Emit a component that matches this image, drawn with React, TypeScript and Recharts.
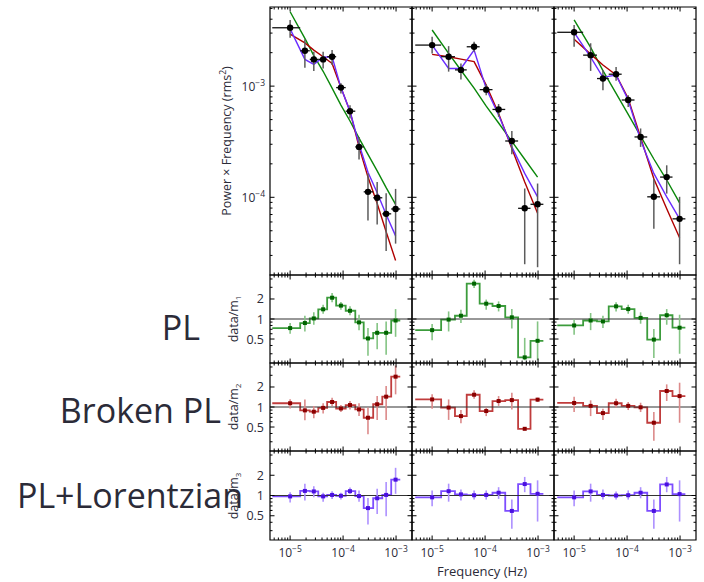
import {
  ComposedChart,
  Line,
  Scatter,
  XAxis,
  YAxis,
  ErrorBar,
  ReferenceLine,
  ReferenceArea,
} from 'recharts'

const FONT = '"Open Sans", "Noto Sans", sans-serif'
const INK = '#2b2b38'

// frequency bins (Hz): centres and edges. column 1 has 12 bins, columns 2-3 have 9
const freqA = [1.0e-5, 1.9e-5, 2.8e-5, 4.2e-5, 6.2e-5, 9.1e-5, 1.35e-4, 2.0e-4, 2.95e-4, 4.4e-4, 6.5e-4, 9.8e-4]
const edgesA = [4.6e-6, 1.55e-5, 2.35e-5, 3.4e-5, 5.0e-5, 7.4e-5, 1.12e-4, 1.7e-4, 2.45e-4, 3.7e-4, 5.5e-4, 8.1e-4, 1.2e-3]
const freqB = [1.0e-5, 2.05e-5, 3.5e-5, 6.2e-5, 1.05e-4, 1.8e-4, 3.2e-4, 5.6e-4, 9.8e-4]
const edgesB = [4.8e-6, 1.48e-5, 2.7e-5, 4.5e-5, 7.9e-5, 1.38e-4, 2.4e-4, 4.2e-4, 7.2e-4, 1.26e-3]

// column 1
const powA = [3.35e-3, 2.08e-3, 1.74e-3, 1.74e-3, 1.84e-3, 9.7e-4, 5.95e-4, 2.84e-4, 1.12e-4, 9.9e-5, 7.1e-5, 7.85e-5]
const powHiA = [3.94e-3, 2.64e-3, 2.04e-3, 2.04e-3, 2.11e-3, 1.06e-3, 6.74e-4, 3.49e-4, 1.64e-4, 1.37e-4, 1.09e-4, 1.19e-4]
const powLoA = [2.72e-3, 1.46e-3, 1.37e-3, 1.44e-3, 1.55e-3, 8.6e-4, 5.12e-4, 2.19e-4, 6.2e-5, 5.7e-5, 3.28e-5, 3.83e-5]
const plA = [4.67e-3, 2.69e-3, 1.88e-3, 1.36e-3, 9.6e-4, 6.75e-4, 4.86e-4, 3.41e-4, 2.43e-4, 1.73e-4, 1.22e-4, 8.65e-5]
const bplA = [2.94e-3, 2.45e-3, 2.11e-3, 1.84e-3, 1.6e-3, 9.7e-4, 5.95e-4, 2.84e-4, 1.52e-4, 8.8e-5, 4.9e-5, 2.7e-5]
const lorA = [3.27e-3, 1.74e-3, 1.57e-3, 1.82e-3, 1.84e-3, 9.7e-4, 5.95e-4, 3.0e-4, 1.68e-4, 1.1e-4, 7.0e-5, 4.5e-5]
const r1A = [0.73, 0.87, 1.02, 1.4, 2.09, 1.59, 1.33, 0.89, 0.51, 0.62, 0.62, 0.95]
const r1HiA = [0.87, 1.12, 1.26, 1.64, 2.46, 1.8, 1.55, 1.16, 0.73, 0.87, 0.92, 1.41]
const r1LoA = [0.6, 0.65, 0.82, 1.2, 1.78, 1.38, 1.14, 0.68, 0.28, 0.35, 0.29, 0.54]
const r2A = [1.14, 0.89, 0.85, 0.97, 1.19, 0.95, 1.07, 0.92, 0.69, 1.1, 1.43, 2.86]
const r2HiA = [1.31, 1.3, 1.04, 1.14, 1.38, 1.07, 1.23, 1.14, 0.98, 1.46, 2.07, 4.2]
const r2LoA = [0.95, 0.63, 0.68, 0.8, 1.04, 0.84, 0.92, 0.73, 0.39, 0.64, 0.64, 1.55]
const r3A = [0.97, 1.17, 1.15, 0.97, 1.02, 0.99, 1.16, 0.98, 0.65, 0.91, 1.02, 1.72]
const r3HiA = [1.12, 1.5, 1.37, 1.1, 1.16, 1.1, 1.32, 1.19, 0.92, 1.26, 1.59, 2.58]
const r3LoA = [0.79, 0.84, 0.94, 0.81, 0.89, 0.87, 1.05, 0.81, 0.37, 0.53, 0.49, 1.06]

// column 2
const powB = [2.34e-3, 1.84e-3, 1.4e-3, 2.26e-3, 9.3e-4, 6.17e-4, 3.21e-4, 7.96e-5, 8.65e-5]
const powHiB = [2.78e-3, 2.29e-3, 1.6e-3, 2.51e-3, 1.04e-3, 6.9e-4, 3.95e-4, 1.2e-4, 1.33e-4]
const powLoB = [1.97e-3, 1.35e-3, 1.15e-3, 2.04e-3, 8.3e-4, 5.3e-4, 2.44e-4, 2.5e-5, 2.35e-5]
const plB = [3.2e-3, 1.97e-3, 1.39e-3, 9.6e-4, 6.6e-4, 4.66e-4, 3.18e-4, 2.2e-4, 1.52e-4]
const bplB = [1.93e-3, 1.84e-3, 1.75e-3, 1.66e-3, 1.02e-3, 5.68e-4, 2.75e-4, 1.37e-4, 7.2e-5]
const lorB = [2.34e-3, 1.44e-3, 1.44e-3, 2.11e-3, 9.5e-4, 5.5e-4, 2.84e-4, 1.64e-4, 1.01e-4]
const r1B = [0.68, 0.98, 1.12, 3.4, 1.7, 1.57, 1.06, 0.265, 0.47]
const r1HiB = [0.84, 1.3, 1.38, 3.9, 1.96, 1.84, 1.41, 0.52, 0.92]
const r1LoB = [0.48, 0.65, 0.87, 2.93, 1.38, 1.3, 0.72, 0.24, 0.24]
const r2B = [1.3, 0.98, 0.73, 1.53, 0.87, 1.23, 1.27, 0.47, 1.29]
const r2HiB = [1.55, 1.3, 0.9, 1.78, 0.98, 1.46, 1.64, 0.49, 1.38]
const r2LoB = [0.94, 0.64, 0.57, 1.33, 0.73, 1.04, 0.92, 0.45, 1.19]
const r3B = [0.94, 1.16, 1.04, 1.01, 1.02, 1.1, 0.59, 1.48, 1.06]
const r3HiB = [1.19, 1.5, 1.23, 1.19, 1.19, 1.33, 0.87, 1.89, 1.68]
const r3LoB = [0.69, 0.81, 0.84, 0.87, 0.87, 0.89, 0.32, 1.12, 0.41]

// column 3
const powC = [3.05e-3, 1.9e-3, 1.17e-3, 1.28e-3, 7.5e-4, 3.49e-4, 1.01e-4, 1.52e-4, 6.4e-5]
const powHiC = [3.55e-3, 2.43e-3, 1.39e-3, 1.49e-3, 8.3e-4, 4.16e-4, 1.47e-4, 1.94e-4, 1.01e-4]
const powLoC = [2.26e-3, 1.37e-3, 9.2e-4, 1.12e-3, 6.5e-4, 2.84e-4, 5.2e-5, 1.08e-4, 2.5e-5]
const plC = [3.94e-3, 2.23e-3, 1.38e-3, 8.6e-4, 5.57e-4, 3.55e-4, 2.21e-4, 1.43e-4, 8.9e-5]
const bplC = [2.64e-3, 1.94e-3, 1.55e-3, 1.26e-3, 7.75e-4, 3.45e-4, 1.47e-4, 7.9e-5, 4.33e-5]
const lorC = [3.05e-3, 1.82e-3, 1.2e-3, 1.26e-3, 7.5e-4, 3.27e-4, 1.64e-4, 1.01e-4, 6.4e-5]
const r1C = [0.8, 0.95, 0.92, 1.55, 1.41, 1.04, 0.49, 1.14, 0.74]
const r1HiC = [0.98, 1.23, 1.12, 1.78, 1.64, 1.26, 0.71, 1.41, 1.16]
const r1LoC = [0.58, 0.68, 0.73, 1.3, 1.2, 0.85, 0.26, 0.82, 0.3]
const r2C = [1.15, 1.04, 0.81, 1.14, 1.04, 0.99, 0.58, 1.74, 1.46]
const r2HiC = [1.43, 1.26, 0.94, 1.33, 1.19, 1.16, 0.84, 2.19, 2.32]
const r2LoC = [0.84, 0.73, 0.64, 0.98, 0.9, 0.84, 0.31, 1.23, 0.58]
const r3C = [0.94, 1.15, 1.02, 1.0, 1.01, 1.1, 0.59, 1.46, 1.05]
const r3HiC = [1.19, 1.5, 1.23, 1.15, 1.19, 1.33, 0.87, 1.89, 1.68]
const r3LoC = [0.69, 0.81, 0.87, 0.87, 0.87, 0.91, 0.32, 1.12, 0.41]

// axes
const xDomain = [4.17e-6, 2.0e-3]
const powDomain = [2.0e-5, 5.15e-3]
const ratioDomain = [0.218, 4.59]
const xTicks = [5e-6, 6e-6, 7e-6, 8e-6, 9e-6, 1e-5, 2e-5, 3e-5, 4e-5, 5e-5, 6e-5, 7e-5, 8e-5, 9e-5, 1e-4, 2e-4, 3e-4, 4e-4, 5e-4, 6e-4, 7e-4, 8e-4, 9e-4, 1e-3]
const powTicks = [3e-5, 4e-5, 5e-5, 6e-5, 7e-5, 8e-5, 9e-5, 1e-4, 2e-4, 3e-4, 4e-4, 5e-4, 6e-4, 7e-4, 8e-4, 9e-4, 1e-3, 2e-3, 3e-3, 4e-3, 5e-3]
const ratioTicks = [0.3, 0.4, 0.5, 0.6, 0.7, 0.8, 0.9, 1, 2, 3, 4]
const ratioMajor = ['0.5', '1', '2']

const modelColors = [
  { line: '#0a870a', step: '#3c9c3c', err: '#84c484', dot: '#006400' },
  { line: '#b00000', step: '#c03c3c', err: '#dc8a8a', dot: '#8b0000' },
  { line: '#6a2cff', step: '#7d4dff', err: '#ad90ff', dot: '#4a10e0' },
]

const COL_X = [270, 412, 554]
const PW = 142
const ROWS = [
  { top: 7, h: 268 },
  { top: 275, h: 88 },
  { top: 363, h: 88 },
  { top: 451, h: 89 },
]
const ML = 45
const MT = 10
const MR = 10
const MB = 25

const columns = [
  {
    freq: freqA, edges: edgesA, pow: powA, lo: powLoA, hi: powHiA, models: [plA, bplA, lorA],
    ratios: [[r1A, r1LoA, r1HiA], [r2A, r2LoA, r2HiA], [r3A, r3LoA, r3HiA]],
  },
  {
    freq: freqB, edges: edgesB, pow: powB, lo: powLoB, hi: powHiB, models: [plB, bplB, lorB],
    ratios: [[r1B, r1LoB, r1HiB], [r2B, r2LoB, r2HiB], [r3B, r3LoB, r3HiB]],
  },
  {
    freq: freqB, edges: edgesB, pow: powC, lo: powLoC, hi: powHiC, models: [plC, bplC, lorC],
    ratios: [[r1C, r1LoC, r1HiC], [r2C, r2LoC, r2HiC], [r3C, r3LoC, r3HiC]],
  },
]

function isDecade(v: number) {
  const l = Math.log10(v)
  return Math.abs(l - Math.round(l)) < 1e-6
}

function Pow10({ x, y, v, anchor }: { x: number; y: number; v: number; anchor: string }) {
  const e = Math.round(Math.log10(v))
  return (
    <text x={x} y={y} textAnchor={anchor} fontSize={12} fontFamily={FONT} fill={INK}>
      10
      <tspan dy={-5} fontSize={8.5}>{'\u2212' + Math.abs(e)}</tspan>
    </text>
  )
}

// ticks point inward on all four sides of a panel
function XTick(props: any) {
  const { x, y, payload, plotH, labels } = props
  const v = payload.value
  const major = isDecade(v)
  const len = major ? 4.5 : 2.5
  return (
    <g>
      <line x1={x} x2={x} y1={y - len} y2={y} stroke="#000" strokeWidth={1} />
      <line x1={x} x2={x} y1={y - plotH} y2={y - plotH + len} stroke="#000" strokeWidth={1} />
      {labels && major && <Pow10 x={x} y={y + 17} v={v} anchor="middle" />}
    </g>
  )
}

function YTick(props: any) {
  const { x, y, payload, labels, ratio } = props
  const v = payload.value
  const major = ratio ? ratioMajor.includes(String(v)) : isDecade(v)
  const len = major ? 4.5 : 2.5
  return (
    <g>
      <line x1={x} x2={x + len} y1={y} y2={y} stroke="#000" strokeWidth={1} />
      <line x1={x + PW - len} x2={x + PW} y1={y} y2={y} stroke="#000" strokeWidth={1} />
      {labels && major && ratio && (
        <text x={x - 6} y={y + 4.5} textAnchor="end" fontSize={12.5} fontFamily={FONT} fill={INK}>
          {String(v)}
        </text>
      )}
      {labels && major && !ratio && <Pow10 x={x - 5} y={y + 4.5} v={v} anchor="end" />}
    </g>
  )
}

function Panel({ ci, ri, children }: { ci: number; ri: number; children: any }) {
  const row = ROWS[ri]
  const ratio = ri > 0
  const w = ML + PW + MR
  const h = MT + row.h + MB
  const yDomain = ratio ? ratioDomain : powDomain
  return (
    <div style={{ position: 'absolute', left: COL_X[ci] - ML, top: row.top - MT, width: w, height: h }}>
      <ComposedChart width={w} height={h} margin={{ top: MT, right: MR, bottom: 0, left: 0 }}>
        <XAxis
          dataKey="f"
          type="number"
          scale="log"
          domain={xDomain}
          allowDataOverflow
          ticks={xTicks}
          interval={0}
          height={MB}
          axisLine={false}
          tickLine={false}
          tickSize={0}
          tickMargin={0}
          tick={(p: any) => <XTick {...p} plotH={row.h} labels={ri === 3} />}
        />
        <YAxis
          type="number"
          scale="log"
          domain={yDomain}
          allowDataOverflow
          ticks={ratio ? ratioTicks : powTicks}
          interval={0}
          width={ML}
          axisLine={false}
          tickLine={false}
          tickSize={0}
          tickMargin={0}
          tick={(p: any) => <YTick {...p} labels={ci === 0} ratio={ratio} />}
        />
        {children}
        <ReferenceArea
          x1={xDomain[0]}
          x2={xDomain[1]}
          y1={yDomain[0]}
          y2={yDomain[1]}
          fill="none"
          stroke="#000"
          strokeWidth={1.2}
          ifOverflow="visible"
        />
      </ComposedChart>
    </div>
  )
}

function powerSeries(col: any) {
  const pts = col.freq.map((f: number, i: number) => ({
    f,
    v: col.pow[i],
    ex: [f - col.edges[i], col.edges[i + 1] - f],
    ey: [col.pow[i] - col.lo[i], col.hi[i] - col.pow[i]],
  }))
  const lines = col.models.map((m: number[], k: number) => (
    <Line
      key={'m' + k}
      data={col.freq.map((f: number, i: number) => ({ f, v: m[i] }))}
      dataKey="v"
      type="linear"
      stroke={modelColors[k].line}
      strokeWidth={1.4}
      dot={false}
      isAnimationActive={false}
    />
  ))
  return [
    ...lines,
    <Scatter
      key="pts"
      data={pts}
      dataKey="v"
      isAnimationActive={false}
      shape={(p: any) => <circle cx={p.cx} cy={p.cy} r={3.2} fill="#000" />}
    >
      <ErrorBar dataKey="ey" direction="y" width={0} stroke="#5c5c5c" strokeWidth={1.5} />
      <ErrorBar dataKey="ex" direction="x" width={0} stroke="#111" strokeWidth={1.3} />
    </Scatter>,
  ]
}

function ratioSeries(col: any, k: number) {
  const [r, lo, hi] = col.ratios[k]
  const c = modelColors[k]
  const steps = r.map((v: number, i: number) => ({ f: col.edges[i], v }))
  steps.push({ f: col.edges[col.edges.length - 1], v: r[r.length - 1] })
  const pts = col.freq.map((f: number, i: number) => ({ f, v: r[i], ey: [r[i] - lo[i], hi[i] - r[i]] }))
  return [
    <Line
      key="step"
      data={steps}
      dataKey="v"
      type="stepAfter"
      stroke={c.step}
      strokeWidth={1.8}
      dot={false}
      isAnimationActive={false}
    />,
    <ReferenceLine key="one" y={1} stroke="#333" strokeWidth={1.2} />,
    <Scatter
      key="pts"
      data={pts}
      dataKey="v"
      isAnimationActive={false}
      shape={(p: any) => <rect x={p.cx - 2} y={p.cy - 2} width={4} height={4} fill={c.dot} />}
    >
      <ErrorBar dataKey="ey" direction="y" width={0} stroke={c.err} strokeWidth={1.6} />
    </Scatter>,
  ]
}

export default function App() {
  return (
    <div style={{ position: 'absolute', left: 0, top: 0, width: 704, height: 582, background: '#fff' }}>
      {columns.map((col, ci) => (
        <div key={ci}>
          <Panel ci={ci} ri={0}>{powerSeries(col)}</Panel>
          <Panel ci={ci} ri={1}>{ratioSeries(col, 0)}</Panel>
          <Panel ci={ci} ri={2}>{ratioSeries(col, 1)}</Panel>
          <Panel ci={ci} ri={3}>{ratioSeries(col, 2)}</Panel>
        </div>
      ))}
      <svg
        width={704}
        height={582}
        style={{ position: 'absolute', left: 0, top: 0, pointerEvents: 'none' }}
        fontFamily={FONT}
        fill={INK}
      >
        <text transform="translate(231,141) rotate(-90)" textAnchor="middle" fontSize={12.5}>
          Power × Frequency (rms<tspan dy={-5} fontSize={8.5}>2</tspan>
          <tspan dy={5}>)</tspan>
        </text>
        {[319, 407, 496].map((cy, i) => (
          <text key={i} transform={`translate(238,${cy}) rotate(-90)`} textAnchor="middle" fontSize={12.5}>
            data/m<tspan dy={3} fontSize={8}>{i + 1}</tspan>
          </text>
        ))}
        <text x={482} y={576} textAnchor="middle" fontSize={13}>
          Frequency (Hz)
        </text>
        <text x={200} y={340} textAnchor="end" fontSize={34}>PL</text>
        <text x={221} y={423} textAnchor="end" fontSize={34}>Broken PL</text>
        <text x={243} y={508} textAnchor="end" fontSize={34}>PL+Lorentzian</text>
      </svg>
    </div>
  )
}
